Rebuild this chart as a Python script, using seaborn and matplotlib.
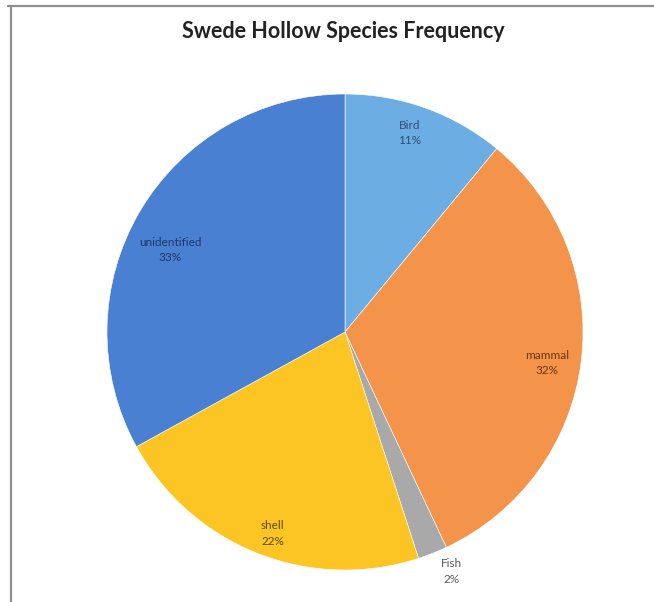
import matplotlib
matplotlib.use("Agg")
import matplotlib.pyplot as plt
from matplotlib.lines import Line2D
import numpy as np
import seaborn as sns

# Species frequency (percent), clockwise from 12 o'clock
categories = ["Bird", "mammal", "Fish", "shell", "unidentified"]
percents = [11, 32, 2, 22, 33]

slice_colors = ["#6caee4", "#f4944a", "#a9a9a9", "#fdc524", "#4a80d2"]
label_colors = ["#2e4d74", "#6e3610", "#5a5a5a", "#5e4800", "#1f3766"]
# label placement: radial distance and angular nudge (deg) from wedge middle
label_dist = [0.88, 0.86, 1.10, 0.90, 0.81]
label_nudge = [1.7, -1.5, 2.3, 1.9, 5.5]

sns.set_theme(style="white")
plt.rcParams["font.family"] = ["Lato", "DejaVu Sans"]

fig = plt.figure(figsize=(6.54, 6.02), dpi=100)
fig.patch.set_facecolor("white")

# frame lines along the top and left edges
fig.add_artist(Line2D([8 / 654, 1.0], [1 - 6 / 602, 1 - 6 / 602],
                      color="#8e8e8e", lw=1.6, transform=fig.transFigure))
fig.add_artist(Line2D([11 / 654, 11 / 654], [0.0, 1 - 6 / 602],
                      color="#8e8e8e", lw=1.6, transform=fig.transFigure))

fig.text(343 / 654, 1 - 31 / 602, "Swede Hollow Species Frequency",
         ha="center", va="center", fontsize=15.5, fontweight="bold",
         color="#222222")

cx, cy, r = 345, 332, 238
ax = fig.add_axes([(cx - r) / 654, (602 - cy - r) / 602, 2 * r / 654, 2 * r / 602])
wedges, _ = ax.pie(percents, colors=slice_colors, startangle=90,
                   counterclock=False, radius=1.0,
                   wedgeprops=dict(edgecolor="white", linewidth=0.4))
ax.set_xlim(-1, 1)
ax.set_ylim(-1, 1)
ax.axis("off")

for w, name, pct, col, d, nd in zip(wedges, categories, percents,
                                     label_colors, label_dist, label_nudge):
    ang = np.deg2rad((w.theta1 + w.theta2) / 2 + nd)
    x, y = d * np.cos(ang), d * np.sin(ang)
    ax.text(x, y, f"{name}\n{pct}%", ha="center", va="center",
            fontsize=8.5, color=col, linespacing=1.5)

fig.savefig("out.png", dpi=100, facecolor="white")
